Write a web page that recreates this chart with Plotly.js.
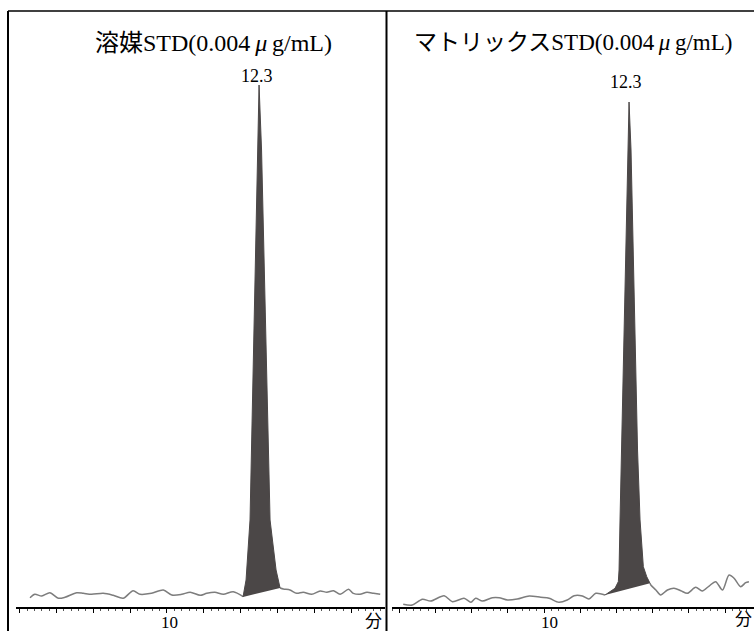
<!DOCTYPE html>
<html>
<head>
<meta charset="utf-8">
<script src="https://cdn.plot.ly/plotly-3.0.1.min.js"></script>
<style>html,body{margin:0;padding:0;background:#fff;}#chart{width:754px;height:631px;}</style>
</head>
<body>
<div id="chart"></div>
<script>
// ---- data (time in minutes, intensity in relative units) ----
const panelTitles = ["溶媒STD(0.004\u2009<i>μ</i>\u2009g/mL)", "マトリックスSTD(0.004\u2009<i>μ</i>\u2009g/mL)"];
const peakLabels = ["12.3", "12.3"];
const tickLabelValue = 10;
const unitLabel = "分";

// left panel (solvent standard)
const leftPreX  = [6.28,6.41,6.60,6.82,7.05,7.23,7.55,7.73,7.95,8.27,8.54,8.81,9.08,9.27,9.58,9.90,10.13,10.40,10.63,10.90,11.08,11.30,11.53,11.80,12.07];
const leftPreY  = [1.78,2.43,2.11,2.74,1.67,1.86,2.74,2.62,2.43,2.62,2.24,1.67,3.12,2.43,2.62,3.26,2.30,2.43,2.82,2.24,2.62,2.82,2.43,2.93,1.97];
const leftPeakX = [12.065,12.147,12.255,12.296,12.378,12.459,12.500,12.568,12.663,12.758,12.799,12.880,12.962,13.071];
const leftPeakY = [1.92,5.17,16.67,30.08,58.81,87.55,100,87.55,58.81,30.08,16.67,11.88,7.09,3.64];
const leftPostX = [13.071,13.16,13.34,13.52,13.70,13.93,14.16,14.34,14.52,14.70,14.93,15.06,15.24,15.43,15.61,15.79];
const leftPostY = [3.64,3.45,3.26,2.62,2.82,2.43,3.07,2.82,3.12,2.43,3.39,2.62,2.43,2.82,2.62,2.43];
const leftApex = 12.50;

// right panel (matrix standard)
const rightPreX  = [6.11,6.36,6.64,6.87,7.24,7.47,7.79,7.98,8.11,8.30,8.57,8.76,8.99,9.26,9.59,9.91,10.14,10.41,10.64,10.83,11.06,11.24,11.43,11.685];
const rightPreY  = [0.52,0.38,1.48,1.15,2.16,1.02,1.67,0.90,1.67,1.15,1.78,1.78,1.34,1.53,2.11,1.86,1.67,0.90,1.34,2.16,2.11,1.53,2.62,2.30];
const rightPeakX = [11.685,11.961,12.052,12.072,12.099,12.141,12.224,12.307,12.348,12.403,12.486,12.583,12.652,12.743,12.837,12.928];
const rightPeakY = [2.30,3.58,4.85,7.09,16.67,30.08,58.81,87.55,96.74,87.55,58.81,30.08,16.67,7.72,5.80,4.54];
const rightPostX = [12.928,12.95,13.09,13.22,13.41,13.59,13.78,13.96,14.19,14.37,14.56,14.74,14.93,15.11,15.25,15.43,15.57,15.66];
const rightPostY = [4.54,4.21,3.26,2.30,3.26,3.58,3.12,2.62,3.77,3.07,4.02,4.85,3.26,6.13,5.50,3.89,4.66,4.85];
const rightApex = 12.348;

const majorTicks = [6,7,8,9,10,11,12,13,14,15];

// ---- drawing ----
const serif = "Liberation Serif, Times New Roman, Noto Sans CJK JP, serif";
const lineCol = "#7d7d7d";
const fillCol = "#4b4747";

function signalTraces(preX, preY, peakX, peakY, postX, postY, xa, ya) {
  return [
    {x: preX, y: preY, xaxis: xa, yaxis: ya, type: "scatter", mode: "lines",
     line: {color: lineCol, width: 1.5, shape: "spline", smoothing: 0.8}, hoverinfo: "skip"},
    {x: postX, y: postY, xaxis: xa, yaxis: ya, type: "scatter", mode: "lines",
     line: {color: lineCol, width: 1.5, shape: "spline", smoothing: 0.8}, hoverinfo: "skip"},
    {x: peakX, y: peakY, xaxis: xa, yaxis: ya, type: "scatter", mode: "lines",
     fill: "toself", fillcolor: fillCol, line: {color: fillCol, width: 1}, hoverinfo: "skip"}
  ];
}

const data = [].concat(
  signalTraces(leftPreX, leftPreY, leftPeakX, leftPeakY, leftPostX, leftPostY, "x", "y"),
  signalTraces(rightPreX, rightPreY, rightPeakX, rightPeakY, rightPostX, rightPostY, "x2", "y2")
);

const W = 754, H = 631;
const px = v => v / W;
const py = v => (H - v) / H;

function xAxis(domain, range, anchor) {
  return {
    domain: domain, range: range, anchor: anchor,
    showgrid: false, zeroline: false,
    showline: true, linecolor: "#000", linewidth: 1.6,
    tickmode: "array", tickvals: majorTicks, ticktext: majorTicks.map(() => ""),
    ticks: "outside", ticklen: 4, tickwidth: 1, tickcolor: "#000",
    minor: {dtick: 0.2, ticks: "outside", ticklen: 2, tickwidth: 1, tickcolor: "#555", showgrid: false},
    fixedrange: true
  };
}
function yAxis(anchor) {
  return {
    domain: [py(607), py(11)], range: [0, 114.18], anchor: anchor,
    visible: false, showgrid: false, zeroline: false, fixedrange: true
  };
}

const layout = {
  width: W, height: H,
  margin: {l: 0, r: 0, t: 0, b: 0, pad: 0},
  paper_bgcolor: "#fff", plot_bgcolor: "rgba(0,0,0,0)",
  showlegend: false,
  xaxis: xAxis([px(16), px(385)], [5.90, 15.92], "y"),
  yaxis: yAxis("x"),
  xaxis2: xAxis([px(392), 1], [5.80, 15.80], "y2"),
  yaxis2: yAxis("x2"),
  shapes: [
    {type: "line", xref: "paper", yref: "paper", x0: px(8), x1: 1, y0: py(11), y1: py(11), line: {color: "#000", width: 1.6}},
    {type: "line", xref: "paper", yref: "paper", x0: px(8), x1: px(8), y0: py(11), y1: 0, line: {color: "#000", width: 2}},
    {type: "line", xref: "paper", yref: "paper", x0: px(386.5), x1: px(386.5), y0: py(11), y1: 0, line: {color: "#000", width: 2}}
  ],
  annotations: [
    {text: panelTitles[0], xref: "paper", yref: "paper", x: px(213), y: py(43), xanchor: "center", yanchor: "middle", showarrow: false, font: {family: serif, size: 24, color: "#000"}},
    {text: panelTitles[1], xref: "paper", yref: "paper", x: px(573), y: py(43), xanchor: "center", yanchor: "middle", showarrow: false, font: {family: serif, size: 23, color: "#000"}},
    {text: peakLabels[0], xref: "x", yref: "paper", x: leftApex, xshift: -2, y: py(76), xanchor: "center", yanchor: "middle", showarrow: false, font: {family: serif, size: 18, color: "#000"}},
    {text: peakLabels[1], xref: "x2", yref: "paper", x: rightApex, xshift: -3, y: py(81.5), xanchor: "center", yanchor: "middle", showarrow: false, font: {family: serif, size: 18, color: "#000"}},
    {text: String(tickLabelValue), xref: "x", yref: "paper", x: tickLabelValue, xshift: 3, y: py(622), xanchor: "center", yanchor: "middle", showarrow: false, font: {family: serif, size: 17, color: "#000"}},
    {text: String(tickLabelValue), xref: "x2", yref: "paper", x: tickLabelValue, xshift: 5, y: py(622), xanchor: "center", yanchor: "middle", showarrow: false, font: {family: serif, size: 17, color: "#000"}},
    {text: unitLabel, xref: "paper", yref: "paper", x: px(373), y: py(621), xanchor: "center", yanchor: "middle", showarrow: false, font: {family: serif, size: 17, color: "#000"}},
    {text: unitLabel, xref: "paper", yref: "paper", x: px(743), y: py(619), xanchor: "center", yanchor: "middle", showarrow: false, font: {family: serif, size: 17, color: "#000"}}
  ]
};

Plotly.newPlot("chart", data, layout, {displayModeBar: false, staticPlot: true});
</script>
</body>
</html>
